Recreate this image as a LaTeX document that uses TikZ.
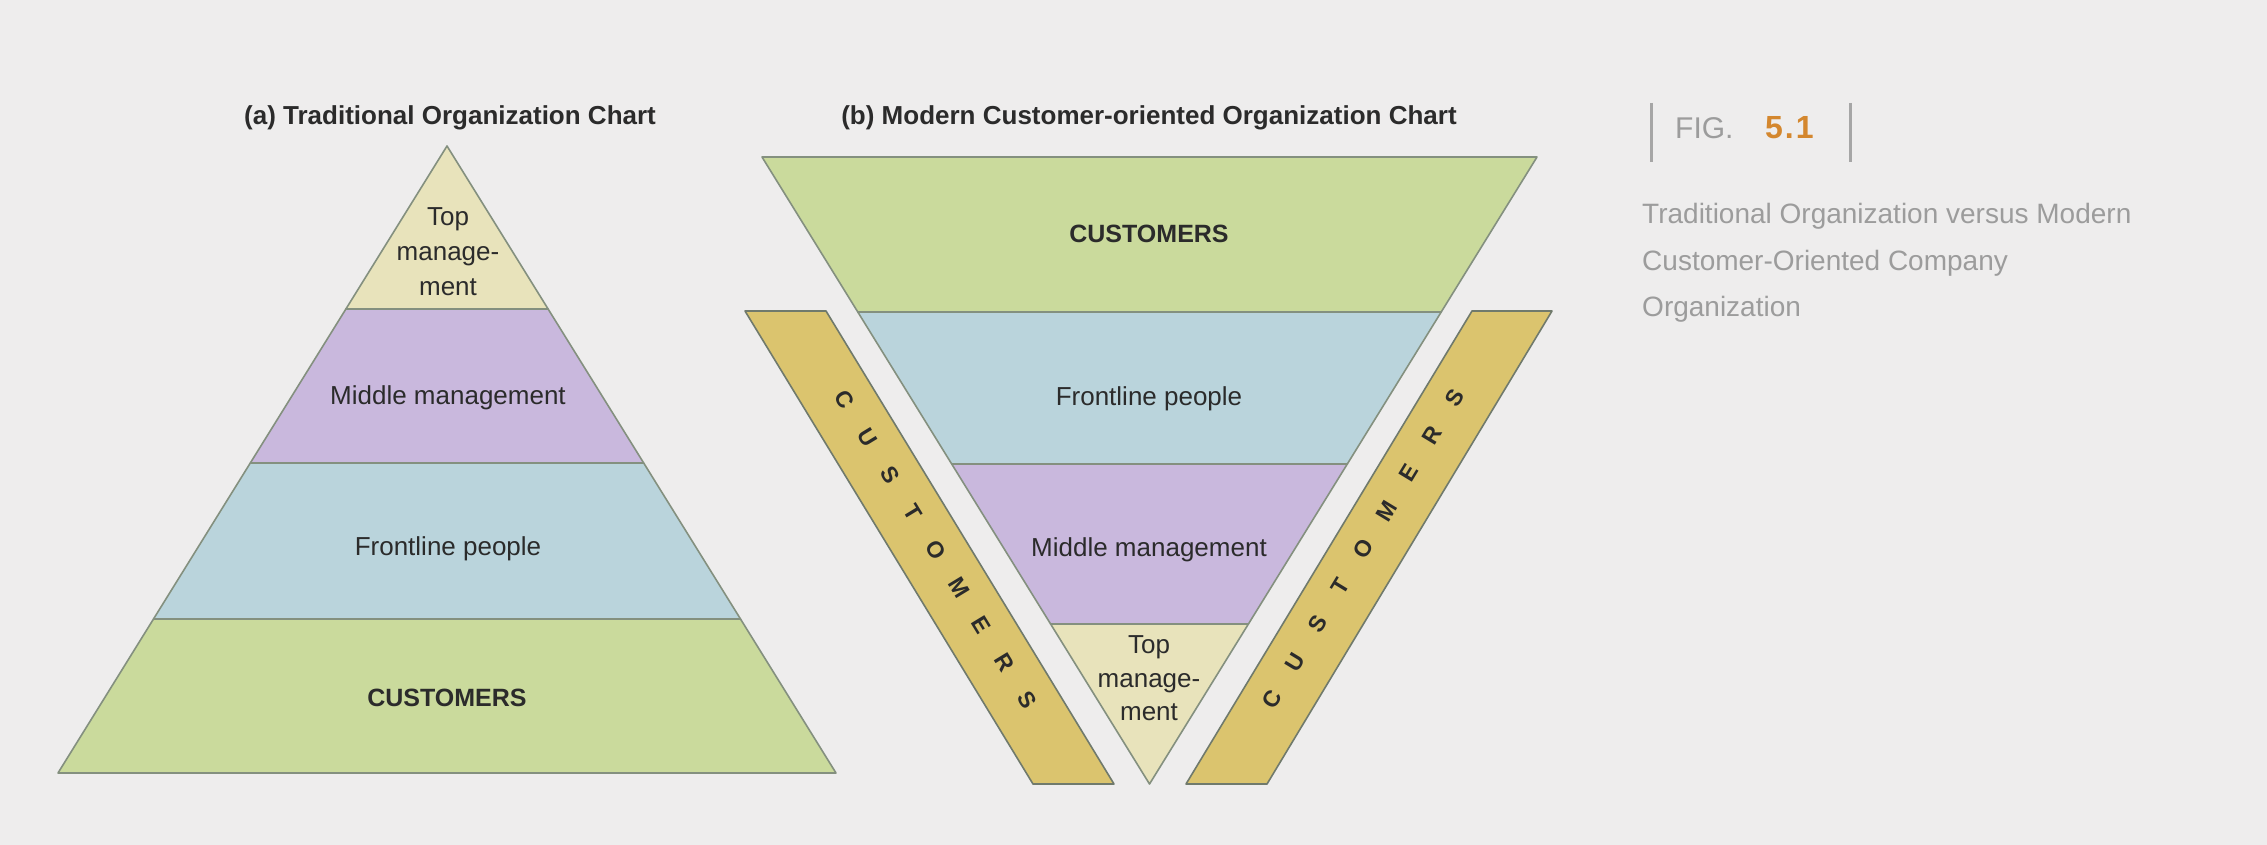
\documentclass[tikz,border=0pt]{standalone}
\usepackage{fontspec}
\setmainfont{Liberation Sans}
\usetikzlibrary{calc}
\definecolor{bgc}{HTML}{EEEDED}
\definecolor{grn}{HTML}{CADA9C}
\definecolor{blu}{HTML}{BAD4DC}
\definecolor{pur}{HTML}{C9B8DD}
\definecolor{bei}{HTML}{E8E3BB}
\definecolor{gold}{HTML}{DBC46E}
\definecolor{edgec}{HTML}{84907F}
\definecolor{ink}{HTML}{2B2B2B}
\definecolor{capg}{HTML}{9C9C9C}
\definecolor{orng}{HTML}{D4872E}
\tikzset{
 band/.style={draw=edgec, line width=1.6pt, line join=round},
 strip/.style={draw=edgec!85!black, fill=gold, line width=1.6pt, line join=round},
 lab/.style={text=ink, font=\fontsize{26}{30}\selectfont, inner sep=0pt, text height=0.72em, text depth=0pt},
 labb/.style={text=ink, font=\fontsize{25}{30}\selectfont\bfseries, inner sep=0pt, text height=0.72em, text depth=0pt},
 ttl/.style={text=ink, font=\fontsize{26}{30}\selectfont\bfseries, inner sep=0pt, text height=0.72em, text depth=0pt},
 ltr/.style={text=ink, font=\fontsize{23}{26}\selectfont\bfseries, inner sep=0pt, text height=0.72em, text depth=0pt},
 capt/.style={text=capg, font=\fontsize{28}{34}\selectfont, inner sep=0pt, anchor=west, text height=0.72em, text depth=0pt},
 bar/.style={draw=capg!90, line width=3pt},
}
\begin{document}
\begin{tikzpicture}[x=1pt,y=-1pt]
\fill[bgc] (0,0) rectangle (2267,845);
\useasboundingbox (0,0) rectangle (2267,845);
% ---------- (a) traditional pyramid ----------
\filldraw[band, fill=bei] (447,146) -- (548.1,309) -- (345.9,309) -- cycle;
\filldraw[band, fill=pur] (345.9,309) -- (548.1,309) -- (643.7,463) -- (250.3,463) -- cycle;
\filldraw[band, fill=blu] (250.3,463) -- (643.7,463) -- (740.5,619) -- (153.5,619) -- cycle;
\filldraw[band, fill=grn] (153.5,619) -- (740.5,619) -- (836,773) -- (58,773) -- cycle;
\node[ttl] (ta) at (450,121) {(a) Traditional Organization Chart};
\node[lab] (atop1) at (448,222) {Top};
\node[lab] (atop2) at (448,257) {manage-};
\node[lab] (atop3) at (448,292) {ment};
\node[lab] (amid) at (448,401) {Middle management};
\node[lab] (afront) at (448,552) {Frontline people};
\node[labb] (acust) at (447,703) {CUSTOMERS};
% ---------- (b) inverted pyramid ----------
\filldraw[band, fill=grn] (762,157) -- (1537,157) -- (1441.2,312) -- (857.8,312) -- cycle;
\filldraw[band, fill=blu] (857.8,312) -- (1441.2,312) -- (1347.3,464) -- (951.7,464) -- cycle;
\filldraw[band, fill=pur] (951.7,464) -- (1347.3,464) -- (1248.4,624) -- (1050.6,624) -- cycle;
\filldraw[band, fill=bei] (1050.6,624) -- (1248.4,624) -- (1149.5,784) -- cycle;
\filldraw[strip] (745,311) -- (826,311) -- (1114,784) -- (1033,784) -- cycle;
\filldraw[strip] (1472,311) -- (1552,311) -- (1267,784) -- (1186,784) -- cycle;
\node[ttl] (tb) at (1149,121) {(b) Modern Customer-oriented Organization Chart};
\node[labb] (bcust) at (1149,239) {CUSTOMERS};
\node[lab] (bfront) at (1149,402) {Frontline people};
\node[lab] (bmid) at (1149,553) {Middle management};
\node[lab] (btop1) at (1149,650) {Top};
\node[lab] (btop2) at (1149,684) {manage-};
\node[lab] (btop3) at (1149,717) {ment};
\foreach \L [count=\i from 0] in {C,U,S,T,O,M,E,R,S} {
  \pgfmathsetmacro\yy{402+\i*37.5}
  \pgfmathsetmacro\xx{785.5+0.6089*(\yy-311)}
  \node[ltr, rotate=-58.7] (lc\i) at (\xx,\yy) {\L};
  \pgfmathsetmacro\yr{702-\i*37.75}
  \pgfmathsetmacro\xr{1512-0.6036*(\yr-311)}
  \node[ltr, rotate=58.8] (rc\i) at (\xr,\yr) {\L};
}
% ---------- figure caption ----------
\draw[bar] (1651,103) -- (1651,162);
\draw[bar] (1850,103) -- (1850,162);
\node[text=capg, font=\fontsize{30}{34}\selectfont, inner sep=0pt, anchor=west, text height=0.72em, text depth=0pt] (fig) at (1675,135) {FIG.};
\node[text=orng, font=\fontsize{32}{34}\selectfont\bfseries, inner sep=0pt, anchor=west, text height=0.72em, text depth=0pt] (fignum) at (1765,135) {5\kern2pt.\kern2pt1};
\node[capt] (cap1) at (1642,220) {Traditional Organization versus Modern};
\node[capt] (cap2) at (1642,267) {Customer-Oriented Company};
\node[capt] (cap3) at (1642,313) {Organization};
\end{tikzpicture}
\end{document}
